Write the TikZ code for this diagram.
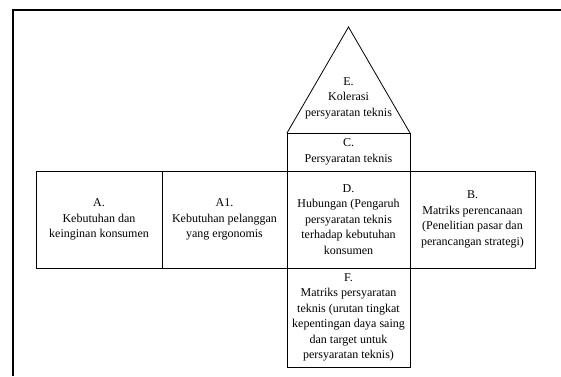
\documentclass[tikz,border=0pt]{standalone}
\usepackage{fontspec}
\setmainfont{Liberation Serif}
\begin{document}
\begin{tikzpicture}[x=1pt,y=-1pt,
  cell/.style={draw, line width=0.8pt, align=center, inner sep=0pt, outer sep=0pt,
    font=\fontsize{12}{15.5}\selectfont},
  frameline/.style={line width=2.5pt}]
\useasboundingbox (0,0) rectangle (561,376);
\coordinate (fb) at (13,376);
\coordinate (ftl) at (13,10);
\coordinate (fr) at (561,10);
\draw[frameline] (fb) -- (ftl) -- (fr);

\node[cell, minimum width=126pt, minimum height=97pt] (A) at (99,219.5)
  {A.\\Kebutuhan dan\\keinginan konsumen};
\node[cell, minimum width=125pt, minimum height=97pt] (A1) at (224.5,219.5)
  {A1.\\Kebutuhan pelanggan\\yang ergonomis};
\node[cell, minimum width=123pt, minimum height=97pt] (D) at (348.5,219.5)
  {D.\\Hubungan (Pengaruh\\persyaratan teknis\\terhadap kebutuhan\\konsumen};
\node[cell, minimum width=125pt, minimum height=97pt] (B) at (472.5,219.5)
  {B.\\Matriks perencanaan\\(Penelitian pasar dan\\perancangan strategi)};
\node[cell, minimum width=123pt, minimum height=38pt] (C) at (348.5,152)
  {C.\\Persyaratan teknis};
\node[cell, minimum width=123pt, minimum height=99pt] (F) at (348.5,317.5)
  {F.\\Matriks persyaratan\\teknis (urutan tingkat\\kepentingan daya saing\\dan target untuk\\persyaratan teknis)};
\coordinate (apex) at (348.5,27);
\draw[line width=0.8pt] (C.north west) -- (apex) -- (C.north east);
\node[align=center, inner sep=0pt, font=\fontsize{12}{15.5}\selectfont] (E) at (348.5,98)
  {E.\\Kolerasi\\persyaratan teknis};
\end{tikzpicture}
\end{document}
